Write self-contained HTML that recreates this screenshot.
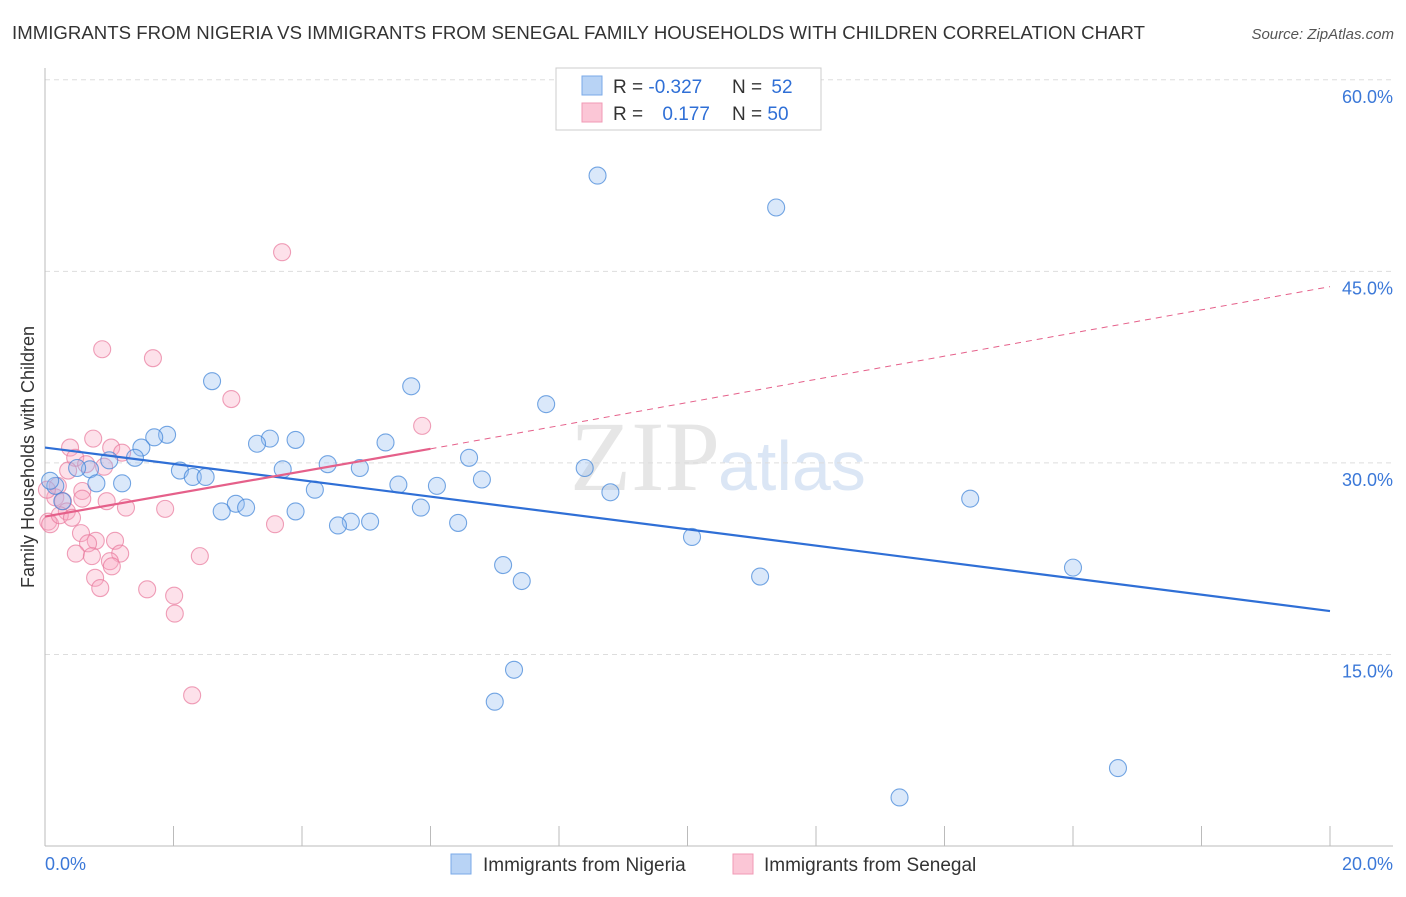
<!DOCTYPE html>
<html><head><meta charset="utf-8"><style>
body{margin:0;background:#fff;font-family:"Liberation Sans",sans-serif;}
</style></head><body>
<svg id="c" width="1406" height="892" xmlns="http://www.w3.org/2000/svg">
<text x="12" y="39" font-size="18.6" fill="#333" textLength="1133">IMMIGRANTS FROM NIGERIA VS IMMIGRANTS FROM SENEGAL FAMILY HOUSEHOLDS WITH CHILDREN CORRELATION CHART</text>
<text x="1394" y="39" font-size="15" fill="#555" font-style="italic" text-anchor="end">Source: ZipAtlas.com</text>
<text x="720" y="490" font-size="100" fill="#e6e6e6" text-anchor="end" font-family="Liberation Serif">ZIP</text>
<text x="718" y="490" font-size="70" fill="#dbe6f5">atlas</text>
<text transform="translate(34,457) rotate(-90)" font-size="18" fill="#333" text-anchor="middle">Family Households with Children</text>
<g id="grid"></g><g id="marks"></g>
<g>
<rect x="556" y="68" width="265" height="62" fill="#fff" stroke="#ccc"/>
<rect x="582" y="76" width="20" height="19" fill="#b8d3f5" stroke="#7aaae8"/>
<rect x="582" y="103" width="20" height="19" fill="#fbc6d6" stroke="#f09ab5"/>
<text x="613" y="93" font-size="19" fill="#333">R = <tspan fill="#2f6fd6">-0.327</tspan></text>
<text x="732" y="93" font-size="19" fill="#333">N = <tspan fill="#2f6fd6" dx="4">52</tspan></text>
<text x="613" y="120" font-size="19" fill="#333">R = <tspan fill="#2f6fd6" dx="14">0.177</tspan></text>
<text x="732" y="120" font-size="19" fill="#333">N = <tspan fill="#2f6fd6">50</tspan></text>
</g>
<g>
<rect x="451" y="854" width="20" height="20" fill="#b8d3f5" stroke="#7aaae8"/>
<text x="483" y="871" font-size="19" fill="#333">Immigrants from Nigeria</text>
<rect x="733" y="854" width="20" height="20" fill="#fbc6d6" stroke="#f09ab5"/>
<text x="764" y="871" font-size="19" fill="#333">Immigrants from Senegal</text>
</g>
<text x="45" y="870" font-size="18" fill="#3b78d8">0.0%</text>
<text x="1393" y="870" font-size="18" fill="#3b78d8" text-anchor="end">20.0%</text>
</svg>
<script>
const yTicks=[15,30,45,60];
const xTickCount=10;
const nigeriaX=[8.6,11.38,2.6,5.7,7.8,1.9,1.7,1.5,3.5,3.3,3.9,5.3,1.4,1.0,2.1,2.3,2.5,3.7,4.4,4.9,6.6,8.4,0.7,0.5,6.8,1.2,0.8,4.2,5.5,6.1,8.8,14.4,2.97,3.13,2.75,3.9,5.85,4.76,4.56,5.06,6.43,10.07,7.13,7.42,11.13,16.0,7.3,7.0,16.7,13.3,0.16,0.27,0.08];
const nigeriaY=[52.5,50.0,36.4,36.0,34.6,32.2,32.0,31.2,31.9,31.5,31.8,31.6,30.4,30.2,29.4,28.9,28.9,29.5,29.9,29.6,30.4,29.6,29.5,29.6,28.7,28.4,28.4,27.9,28.3,28.2,27.7,27.2,26.8,26.5,26.2,26.2,26.5,25.4,25.1,25.4,25.3,24.2,22.0,20.75,21.1,21.8,13.8,11.3,6.1,3.8,28.2,27.0,28.6];
const senegalX=[3.69,0.89,1.68,2.9,5.87,0.75,0.39,1.03,1.2,0.47,0.92,0.36,0.58,0.2,0.16,0.28,0.34,0.96,1.26,1.87,3.58,0.05,0.08,0.56,0.79,1.09,0.67,0.48,0.73,1.17,2.41,1.01,1.04,0.78,0.86,1.59,2.01,2.02,2.29,0.58,0.23,0.64,0.03,0.42];
const senegalY=[46.5,38.9,38.2,35.0,32.9,31.9,31.2,31.2,30.8,30.4,29.7,29.4,27.8,28.2,27.3,27.0,26.2,27.0,26.5,26.4,25.2,25.4,25.2,24.5,23.9,23.9,23.7,22.9,22.7,22.9,22.7,22.3,21.9,21.0,20.2,20.1,19.6,18.2,11.8,27.2,25.9,29.9,27.9,25.7];
const nigeriaFit=[31.2,18.4];
const senegalFit=[25.8,31.1,43.8];
const NS="http://www.w3.org/2000/svg";
const X=v=>45+v*64.25, Y=v=>846-v*12.77;
function mk(t,a,p){const e=document.createElementNS(NS,t);for(const k in a)e.setAttribute(k,a[k]);p.appendChild(e);return e;}
const g=document.getElementById('grid'),m=document.getElementById('marks');
yTicks.forEach(v=>{
 const l=mk('line',{x1:45,x2:1393,y1:Y(v),y2:Y(v),stroke:'#ddd','stroke-dasharray':'5,4'},g);
 
 
 const t=mk('text',{x:1393,y:Y(v)+23,'font-size':18,fill:'#3b78d8','text-anchor':'end'},g);
 t.textContent=v.toFixed(1)+'%';
 
 
});
const ax=mk('line',{x1:45,x2:45,y1:68,y2:846,stroke:'#bbb'},g);


const bx=mk('line',{x1:45,x2:1393,y1:846,y2:846,stroke:'#bbb'},g);


for(let i=1;i<=xTickCount;i++){const tk=mk('line',{x1:X(i*2),x2:X(i*2),y1:826,y2:846,stroke:'#bbb'},g);
 
 }
function dot(x,y,f,s,n){const c=mk('circle',{cx:X(x),cy:Y(y),r:8.5,fill:f,stroke:s,'stroke-width':1.1},m);
 
 }
senegalX.forEach((x,i)=>dot(x,senegalY[i],'rgba(248,170,195,0.35)','rgba(232,120,155,0.7)','senegal-point'));
nigeriaX.forEach((x,i)=>dot(x,nigeriaY[i],'rgba(150,190,240,0.35)','rgba(60,130,215,0.7)','nigeria-point'));
const bl=mk('line',{x1:X(0),y1:Y(nigeriaFit[0]),x2:X(20),y2:Y(nigeriaFit[1]),stroke:'#2f6fd6','stroke-width':2.2},m);


const pl=mk('line',{x1:X(0),y1:Y(senegalFit[0]),x2:X(6),y2:Y(senegalFit[1]),stroke:'#e5608a','stroke-width':2.2},m);


const pd=mk('line',{x1:X(6),y1:Y(senegalFit[1]),x2:X(20),y2:Y(senegalFit[2]),stroke:'#e5608a','stroke-width':1,'stroke-dasharray':'6,5'},m);


</script>
</body></html>
